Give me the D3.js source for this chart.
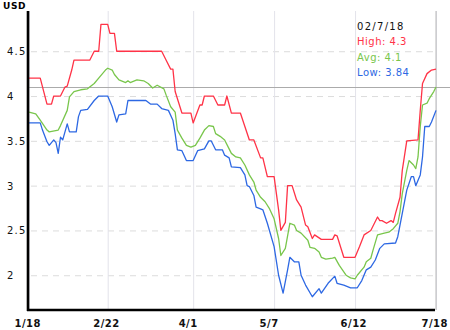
<!DOCTYPE html>
<html>
<head>
<meta charset="utf-8">
<script src="https://cdn.jsdelivr.net/npm/d3@7"></script>
<style>
  body { margin: 0; background: #fff; }
  text { font-family: "DejaVu Sans", Verdana, sans-serif; }
</style>
</head>
<body>
<script>
// tick labels
var xTicks = ["1/18", "2/22", "4/1", "5/7", "6/12", "7/18"];
var yTicks = [2, 2.5, 3, 3.5, 4, 4.5];

// series, [date, USD]
var highData = [["1/18",4.2],["1/23",4.2],["1/26",3.91],["1/28",3.91],["1/29",4.0],["2/1",4.0],["2/3",4.1],["2/4",4.11],
  ["2/6",4.29],["2/7",4.4],["2/14",4.4],["2/16",4.5],["2/18",4.5],["2/19",4.8],["2/22",4.8],["2/23",4.7],["2/25",4.7],
  ["2/26",4.5],["3/18",4.5],["3/20",4.4],["3/22",4.3],["3/23",4.3],["3/24",4.05],["3/27",3.81],["3/31",3.81],["4/1",3.7],
  ["4/4",3.9],["4/5",3.9],["4/6",4.0],["4/10",4.0],["4/12",3.9],["4/15",3.9],["4/16",4.0],["4/18",3.81],["4/22",3.81],
  ["4/24",3.66],["4/26",3.51],["4/28",3.51],["5/1",3.31],["5/2",3.31],["5/4",3.1],["5/7",3.1],["5/9",2.73],["5/10",2.5],
  ["5/12",2.59],["5/13",3.0],["5/15",3.0],["5/17",2.84],["5/19",2.76],["5/21",2.56],["5/22",2.54],["5/24",2.41],
  ["5/25",2.45],["5/28",2.4],["6/2",2.4],["6/3",2.45],["6/4",2.44],["6/7",2.2],["6/12",2.2],["6/14",2.32],["6/16",2.45],
  ["6/19",2.5],["6/22",2.65],["6/23",2.61],["6/24",2.61],["6/26",2.58],["6/28",2.61],["6/29",2.59],["6/30",2.69],
  ["7/2",2.87],["7/3",3.17],["7/5",3.5],["7/10",3.51],["7/11",3.84],["7/12",4.14],["7/14",4.25],["7/16",4.29],["7/18",4.3]];

var avgData = [["1/18",3.82],["1/21",3.8],["1/23",3.73],["1/26",3.62],["1/27",3.6],["1/31",3.62],["2/1",3.67],["2/4",3.84],
  ["2/5",3.99],["2/7",4.05],["2/10",4.07],["2/13",4.08],["2/16",4.14],["2/18",4.2],["2/21",4.29],["2/22",4.31],["2/24",4.29],
  ["2/25",4.24],["2/27",4.18],["3/2",4.15],["3/3",4.17],["3/4",4.15],["3/7",4.18],["3/10",4.17],["3/12",4.14],["3/14",4.09],
  ["3/16",4.12],["3/19",4.08],["3/20",4.01],["3/22",3.88],["3/24",3.82],["3/25",3.62],["3/27",3.53],["3/29",3.45],
  ["3/31",3.43],["4/2",3.45],["4/4",3.53],["4/6",3.62],["4/8",3.67],["4/10",3.66],["4/11",3.58],["4/13",3.55],["4/15",3.51],
  ["4/17",3.41],["4/18",3.36],["4/20",3.32],["4/22",3.31],["4/24",3.23],["4/26",3.12],["4/28",3.04],["4/29",2.95],
  ["5/1",2.87],["5/3",2.82],["5/5",2.74],["5/7",2.63],["5/9",2.41],["5/10",2.22],["5/12",2.3],["5/14",2.58],["5/16",2.56],
  ["5/17",2.5],["5/19",2.47],["5/22",2.39],["5/23",2.31],["5/25",2.3],["5/27",2.26],["5/28",2.2],["5/30",2.18],["6/2",2.19],
  ["6/3",2.2],["6/5",2.11],["6/8",2.0],["6/10",1.97],["6/12",1.96],["6/13",2.0],["6/16",2.09],["6/17",2.15],["6/19",2.19],
  ["6/20",2.28],["6/22",2.45],["6/25",2.47],["6/27",2.48],["6/29",2.52],["7/1",2.58],["7/2",2.71],["7/3",2.91],["7/5",3.17],
  ["7/6",3.28],["7/8",3.23],["7/9",3.19],["7/10",3.32],["7/11",3.66],["7/12",3.9],["7/14",3.92],["7/15",3.97],["7/17",4.05],
  ["7/18",4.1]];

var lowData = [["1/18",3.7],["1/23",3.7],["1/24",3.62],["1/26",3.49],["1/27",3.45],["1/29",3.51],["1/30",3.48],["1/31",3.36],
  ["2/1",3.54],["2/2",3.51],["2/4",3.69],["2/5",3.6],["2/8",3.6],["2/9",3.77],["2/10",3.84],["2/13",3.85],["2/16",3.95],
  ["2/18",4.0],["2/22",4.0],["2/24",3.88],["2/26",3.71],["2/27",3.79],["3/2",3.8],["3/3",3.95],["3/11",3.95],["3/13",3.91],
  ["3/16",3.91],["3/18",3.86],["3/21",3.84],["3/23",3.73],["3/24",3.58],["3/25",3.4],["3/27",3.39],["3/29",3.28],
  ["4/1",3.28],["4/3",3.39],["4/6",3.41],["4/8",3.5],["4/9",3.5],["4/11",3.4],["4/14",3.4],["4/15",3.34],["4/17",3.31],
  ["4/18",3.21],["4/22",3.2],["4/24",3.12],["4/25",3.0],["4/26",2.99],["4/28",2.89],["4/29",2.76],["5/1",2.74],["5/2",2.73],
  ["5/4",2.58],["5/7",2.32],["5/9",2.0],["5/11",1.8],["5/13",2.06],["5/14",2.2],["5/16",2.15],["5/18",2.15],["5/19",2.0],
  ["5/21",1.89],["5/24",1.76],["5/27",1.85],["5/28",1.8],["5/31",1.91],["6/3",1.99],["6/4",1.91],["6/7",1.89],["6/10",1.86],
  ["6/13",1.86],["6/15",1.94],["6/17",2.06],["6/19",2.09],["6/21",2.17],["6/23",2.3],["6/25",2.35],["6/30",2.36],
  ["7/1",2.43],["7/3",2.69],["7/5",2.95],["7/7",3.1],["7/8",3.1],["7/9",3.0],["7/11",3.12],["7/12",3.32],["7/13",3.66],
  ["7/15",3.66],["7/16",3.71],["7/18",3.84]];

var hoverDate = "02/7/18";
var hoverValue = 4.1;

var width = 450, height = 330;
var plotLeft = 29, plotRight = 436, plotTop = 11, plotBottom = 310;

var parse = function(s){ return d3.timeParse("%m/%d/%Y")(s + "/2018"); };

var svg = d3.select("body").append("svg")
  .attr("width", width)
  .attr("height", height);

var x = d3.scaleTime()
  .domain([parse(xTicks[0]), parse(xTicks[xTicks.length - 1])])
  .range([plotLeft, plotRight]);
var y = d3.scaleLinear()
  .domain([1.612, 4.949])
  .range([plotBottom, plotTop]);

// y axis, dashed grid
var yAxis = svg.append("g")
  .attr("transform", "translate(" + plotLeft + ",0)")
  .call(d3.axisLeft(y).tickValues(yTicks).tickFormat(d3.format("")).tickSize(-(plotRight - plotLeft - 2)).tickSizeOuter(0));
yAxis.selectAll(".tick line")
  .attr("x1", 2)
  .style("stroke", "#dcdcdc")
  .style("stroke-dasharray", "6,5");
yAxis.selectAll(".tick text")
  .attr("x", 7 - plotLeft)
  .attr("dy", "0.35em")
  .attr("text-anchor", "start")
  .style("font-size", "10px")
  .style("letter-spacing", "1.2px")
  .style("fill", "#111");

// x axis, solid grid
var xAxis = svg.append("g")
  .attr("transform", "translate(0," + plotBottom + ")")
  .call(d3.axisBottom(x).tickValues(xTicks.map(parse)).tickFormat(d3.timeFormat("%-m/%-d")).tickSize(-(plotBottom - plotTop)).tickSizeOuter(0));
xAxis.selectAll(".tick line")
  .style("stroke", "#e3e3ea");
xAxis.selectAll(".tick text")
  .attr("x", -15)
  .attr("y", 17)
  .attr("dy", 0)
  .attr("text-anchor", "start")
  .style("font-size", "10px")
  .style("font-weight", "bold")
  .style("letter-spacing", "0.5px")
  .style("fill", "#111");

svg.selectAll(".domain").remove();

// crosshair at last point
var lastDate = parse(xTicks[xTicks.length - 1]);
svg.append("line")
  .attr("x1", x(lastDate)).attr("x2", x(lastDate))
  .attr("y1", plotTop).attr("y2", plotBottom)
  .style("stroke", "#b8b8b8");
svg.append("line")
  .attr("x1", plotLeft).attr("x2", width)
  .attr("y1", Math.round(y(hoverValue)) + 0.5).attr("y2", Math.round(y(hoverValue)) + 0.5)
  .style("stroke", "#ababab");

var line = d3.line()
  .x(function(d){ return x(parse(d[0])); })
  .y(function(d){ return y(d[1]); });

var series = [
  {data: lowData, color: "#2d68e3"},
  {data: avgData, color: "#79c64c"},
  {data: highData, color: "#ff3347"}
];
series.forEach(function(s){
  svg.append("path")
    .datum(s.data)
    .attr("d", line)
    .style("fill", "none")
    .style("stroke", s.color)
    .style("stroke-width", 1.3)
    .style("stroke-linejoin", "round");
});

// axes lines
svg.append("line")
  .attr("x1", plotLeft - 1).attr("x2", plotLeft - 1)
  .attr("y1", plotTop).attr("y2", plotBottom + 1)
  .style("stroke", "#000").style("stroke-width", 2.6);
svg.append("line")
  .attr("x1", plotLeft - 2).attr("x2", plotRight - 1)
  .attr("y1", plotBottom).attr("y2", plotBottom)
  .style("stroke", "#000").style("stroke-width", 2.6);

svg.append("text")
  .attr("x", 3).attr("y", 9)
  .text("USD")
  .style("font-size", "9px")
  .style("font-weight", "bold")
  .style("letter-spacing", "0.6px");

// hover readout
var info = svg.append("g").attr("transform", "translate(357,0)");
info.append("text").attr("y", 29.5).text(hoverDate)
  .style("font-size", "10px").style("letter-spacing", "1.3px").style("fill", "#111");
info.append("text").attr("y", 45).text("High: " + highData[highData.length - 1][1])
  .style("font-size", "10px").style("letter-spacing", "0.5px").style("fill", "#ff3347");
info.append("text").attr("y", 60.5).text("Avg: " + avgData[avgData.length - 1][1])
  .style("font-size", "10px").style("letter-spacing", "0.5px").style("fill", "#79c64c");
info.append("text").attr("y", 75.5).text("Low: " + lowData[lowData.length - 1][1])
  .style("font-size", "10px").style("letter-spacing", "0.5px").style("fill", "#2d68e3");
</script>
</body>
</html>
